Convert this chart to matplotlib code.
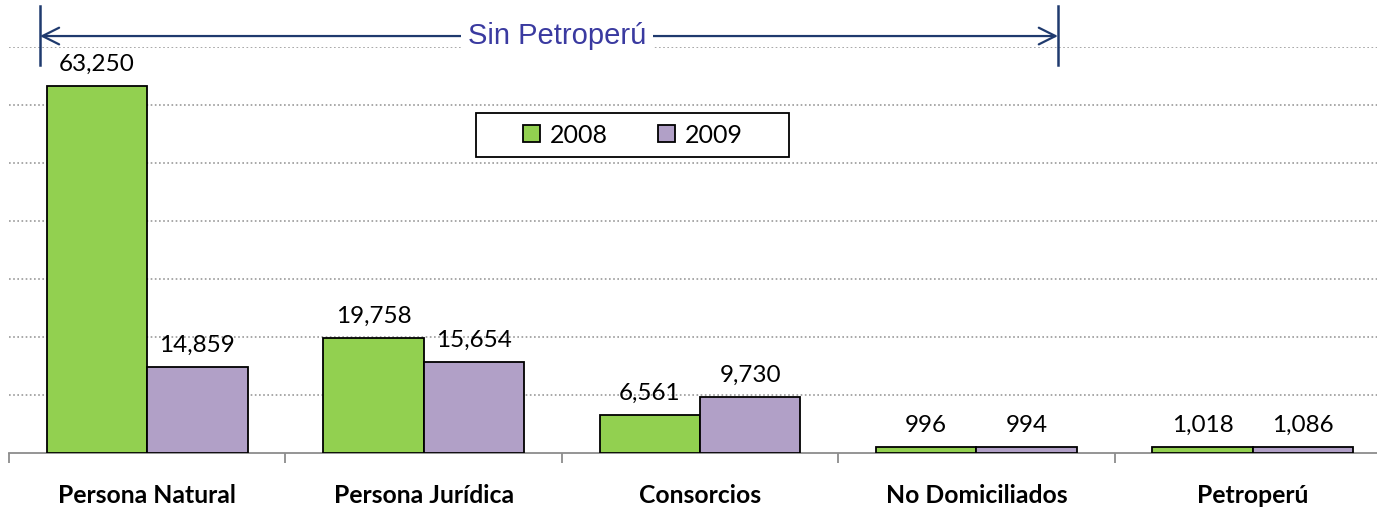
import matplotlib
matplotlib.use("Agg")
import matplotlib.pyplot as plt
import numpy as np
from matplotlib.lines import Line2D
from matplotlib.patches import FancyArrowPatch, Rectangle
import matplotlib.transforms as mtransforms

categories = ["Persona Natural", "Persona Jurídica", "Consorcios",
              "No Domiciliados", "Petroperú"]
years = ["2008", "2009"]
vals_2008 = [63250, 19758, 6561, 996, 1018]
vals_2009 = [14859, 15654, 9730, 994, 1086]

GREEN = "#92D050"
PURPLE = "#B1A0C7"
NAVY = "#1F3A6E"
LABEL_FONT = ["Lato", "DejaVu Sans"]

W, H = 1377, 508
fig = plt.figure(figsize=(W / 100, H / 100), dpi=100)
ax = fig.add_axes([9 / W, (H - 453) / H, (1391 - 9) / W, (453 - 47) / H])

x = np.arange(len(categories))
bw = 0.363
b1 = ax.bar(x - bw / 2, vals_2008, bw, color=GREEN, edgecolor="black",
            linewidth=1.3, label=years[0], zorder=3)
b2 = ax.bar(x + bw / 2, vals_2009, bw, color=PURPLE, edgecolor="black",
            linewidth=1.3, label=years[1], zorder=3)

for bars in (b1, b2):
    for r in bars:
        v = r.get_height()
        ax.annotate(f"{v:,.0f}", (r.get_x() + r.get_width() / 2, v),
                    xytext=(0, 8), textcoords="offset points",
                    ha="center", va="bottom", fontsize=17.5,
                    family=LABEL_FONT)

ax.set_xlim(-0.5, len(categories) - 0.5)
ax.set_ylim(0, 70000)
ax.set_yticks(np.arange(10000, 70001, 10000))
ax.yaxis.set_tick_params(length=0, labelleft=False)
ax.grid(axis="y", linestyle=(0, (1, 1.5)), color="#9a9a9a", linewidth=1.2,
        zorder=0)
ax.set_axisbelow(True)

for s in ("top", "right", "left"):
    ax.spines[s].set_visible(False)
ax.spines["bottom"].set_color("#8c8c8c")
ax.spines["bottom"].set_linewidth(1.3)

ax.set_xticks(np.arange(-0.5, len(categories), 1.0))
ax.set_xticklabels([])
ax.tick_params(axis="x", which="major", length=7, width=1.3,
               color="#8c8c8c")
ax.set_xticks(x, minor=True)
ax.set_xticklabels(categories, minor=True, fontsize=17.8, fontweight="bold",
                   family=LABEL_FONT)
ax.tick_params(axis="x", which="minor", length=0, pad=22)

# legend with a wide Excel-style frame
ax.add_patch(Rectangle((0.338, 0.729), 0.2264, 0.1084, transform=ax.transAxes,
                       facecolor="white", edgecolor="black", linewidth=1.3,
                       zorder=4))
leg = ax.legend(loc="center", bbox_to_anchor=(0.4515, 0.783), ncol=2,
                frameon=False, prop={"family": LABEL_FONT, "size": 18},
                handlelength=0.68, handleheight=0.68, handletextpad=0.4,
                columnspacing=2.0, borderpad=0.2)
leg.set_zorder(5)
for h in leg.legend_handles:
    h.set_linewidth(1.3)

# "Sin Petroperú" span marker
trans = mtransforms.blended_transform_factory(ax.transData, ax.transAxes)
xl, xr = -0.388, 3.295
ya = 1.027
arrow = FancyArrowPatch((xl, ya), (xr, ya), transform=trans,
                        arrowstyle="<->,head_length=12,head_width=6",
                        color=NAVY, linewidth=1.6, clip_on=False,
                        shrinkA=0, shrinkB=0)
ax.add_patch(arrow)
for xv in (xl, xr):
    ax.add_line(Line2D([xv, xv], [0.956, 1.101], transform=trans,
                       color=NAVY, linewidth=1.8, clip_on=False))
ax.text(1.483, ya, "Sin Petroperú", transform=trans, ha="center",
        va="center", fontsize=21, color="#3A3AA0",
        family=["Liberation Sans", "DejaVu Sans"],
        bbox=dict(facecolor="white", edgecolor="none", pad=5), zorder=5)

fig.savefig("out.png", dpi=100)
